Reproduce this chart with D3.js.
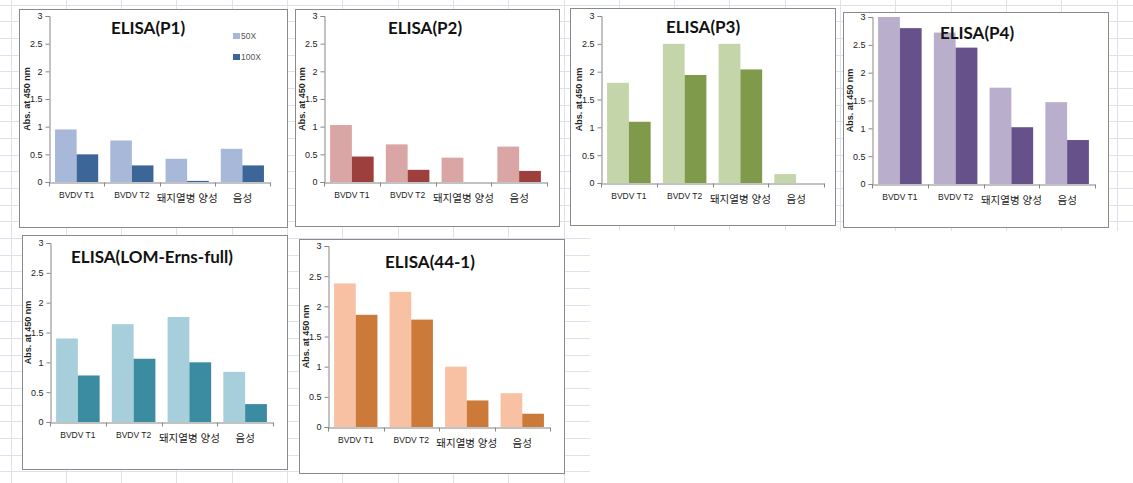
<!DOCTYPE html>
<html>
<head>
<meta charset="utf-8">
<script src="https://cdn.jsdelivr.net/npm/d3@7"></script>
<style>
  body { margin: 0; background: #fff; }
  svg { display: block; }
  .tick text { font-family: "Liberation Sans", "Noto Sans CJK KR", sans-serif; }
</style>
</head>
<body>
<svg width="1133" height="483"></svg>
<script>
// data
const categories = ['BVDV T1', 'BVDV T2', '돼지열병 양성', '음성'];
const seriesNames = ['50X', '100X'];
const yTicks = [0, 0.5, 1, 1.5, 2, 2.5, 3];

const p1_50x = [0.95, 0.75, 0.42, 0.60];
const p1_100x = [0.50, 0.30, 0.02, 0.30];
const p2_50x = [1.03, 0.68, 0.44, 0.64];
const p2_100x = [0.46, 0.22, 0.00, 0.20];
const p3_50x = [1.80, 2.50, 2.50, 0.16];
const p3_100x = [1.10, 1.94, 2.04, 0.00];
const p4_50x = [3.00, 2.72, 1.73, 1.47];
const p4_100x = [2.80, 2.45, 1.02, 0.79];
const lom_50x = [1.40, 1.64, 1.76, 0.84];
const lom_100x = [0.78, 1.06, 1.00, 0.30];
const e44_50x = [2.38, 2.24, 1.00, 0.56];
const e44_100x = [1.86, 1.78, 0.44, 0.22];

// layout of each chart box (frame, plot area, title)
let panels = [
  {title: 'ELISA(P1)', s: [p1_50x, p1_100x], colors: ['#a8b8d9', '#3d6698'],
   frame: [19, 9, 287, 227], plot: [49, 16, 270, 182], tx: 148, ty: 34, legend: true},
  {title: 'ELISA(P2)', s: [p2_50x, p2_100x], colors: ['#d9a6a5', '#9d3f3c'],
   frame: [295, 9, 559, 226], plot: [324, 16, 547, 182], tx: 425, ty: 34},
  {title: 'ELISA(P3)', s: [p3_50x, p3_100x], colors: ['#c3d5a9', '#7f9a4b'],
   frame: [570, 8, 835, 225], plot: [601, 16, 824, 183], tx: 703, ty: 33},
  {title: 'ELISA(P4)', s: [p4_50x, p4_100x], colors: ['#b9aecb', '#67518a'],
   frame: [843, 12, 1108, 227], plot: [872, 17, 1095, 184], tx: 977, ty: 39},
  {title: 'ELISA(LOM-Erns-full)', s: [lom_50x, lom_100x], colors: ['#a7cfdb', '#3b8ca1'],
   frame: [22, 235, 287, 469], plot: [50, 243, 273, 422], tx: 152, ty: 263},
  {title: 'ELISA(44-1)', s: [e44_50x, e44_100x], colors: ['#f9c1a3', '#cc7a39'],
   frame: [299, 239, 564, 473], plot: [328, 246, 550, 427], tx: 430, ty: 268}
];

let svg = d3.select('svg');

// spreadsheet grid behind the charts
let grid = svg.append('g').attr('stroke', '#dde1ee').attr('stroke-width', 1);
d3.range(0, 29).forEach(k => {
  let y = Math.round(4.5 + 16.67 * k) + 0.5;
  grid.append('line').attr('x1', 0).attr('x2', y < 231 ? 1133 : 590).attr('y1', y).attr('y2', y);
});
d3.range(0, 21).forEach(k => {
  let x = Math.round(10.5 + 55.3 * k) + 0.5;
  grid.append('line').attr('x1', x).attr('x2', x).attr('y1', 0).attr('y2', x < 590 ? 483 : 231);
});

panels.forEach(p => {
  let [fx0, fy0, fx1, fy1] = p.frame;
  let [px0, py0, px1, py1] = p.plot;

  svg.append('rect')
    .attr('x', fx0 + 0.5).attr('y', fy0 + 0.5)
    .attr('width', fx1 - fx0).attr('height', fy1 - fy0)
    .attr('fill', '#fff').attr('stroke', '#8a8a8a');

  let x0 = d3.scaleBand().domain(categories).range([px0, px1]).padding(0);
  let x1 = d3.scaleBand().domain(seriesNames).range([0, x0.bandwidth()])
    .paddingInner(0).paddingOuter(0.28);
  let y = d3.scaleLinear().domain([0, 3]).range([py1, py0]);

  let g = svg.append('g');

  // bars
  categories.forEach((c, i) => {
    seriesNames.forEach((sn, j) => {
      let v = p.s[j][i];
      g.append('rect')
        .attr('x', x0(c) + x1(sn))
        .attr('y', y(v))
        .attr('width', x1.bandwidth())
        .attr('height', y(0) - y(v))
        .attr('fill', p.colors[j]);
    });
  });

  // y axis
  let ya = g.append('g')
    .attr('transform', `translate(${px0 + 0.5},0)`)
    .call(d3.axisLeft(y).tickValues(yTicks).tickFormat(d3.format('')).tickSize(4).tickPadding(3));
  ya.select('.domain').attr('stroke', '#868686');
  ya.selectAll('.tick line').attr('stroke', '#868686');
  ya.selectAll('.tick text').attr('font-size', 9).attr('fill', '#222');

  // x axis with ticks at category boundaries
  let xa = g.append('g')
    .attr('transform', `translate(0,${py1 + 0.5})`)
    .call(d3.axisBottom(x0).tickSize(0).tickPadding(0));
  xa.select('.domain').attr('stroke', '#868686');
  xa.selectAll('.tick text')
    .attr('fill', '#222')
    .attr('font-size', d => /[\uac00-\ud7a3]/.test(d) ? 10.5 : 8.5)
    .attr('dy', null)
    .attr('y', d => /[\uac00-\ud7a3]/.test(d) ? 19 : 15);
  let bounds = categories.map(c => x0(c)).concat([px1]);
  xa.selectAll('.bound').data(bounds).enter().append('line')
    .attr('x1', d => Math.round(d) + 0.5).attr('x2', d => Math.round(d) + 0.5)
    .attr('y1', 0).attr('y2', 4).attr('stroke', '#868686');

  // y axis title
  g.append('text')
    .attr('transform', `translate(${px0 - 19},${(py0 + py1) / 2}) rotate(-90)`)
    .attr('text-anchor', 'middle')
    .attr('font-family', 'Liberation Sans, sans-serif')
    .attr('font-size', 9)
    .attr('font-weight', 'bold')
    .attr('fill', '#222')
    .text('Abs. at 450 nm');

  // chart title
  g.append('text')
    .attr('x', p.tx).attr('y', p.ty)
    .attr('text-anchor', 'middle')
    .attr('font-family', 'Lato, sans-serif')
    .attr('font-weight', 'bold')
    .attr('font-size', 17)
    .attr('fill', '#111')
    .text(p.title);

  if (p.legend) {
    let lg = g.append('g').attr('transform', 'translate(233,33)');
    seriesNames.forEach((sn, j) => {
      lg.append('rect').attr('x', 0).attr('y', j * 21).attr('width', 7).attr('height', 6)
        .attr('fill', p.colors[j]);
      lg.append('text').attr('x', 8).attr('y', j * 21 + 6)
        .attr('font-family', 'Liberation Sans, sans-serif')
        .attr('font-size', 8.5).attr('fill', '#555').text(sn);
    });
  }
});
</script>
</body>
</html>
